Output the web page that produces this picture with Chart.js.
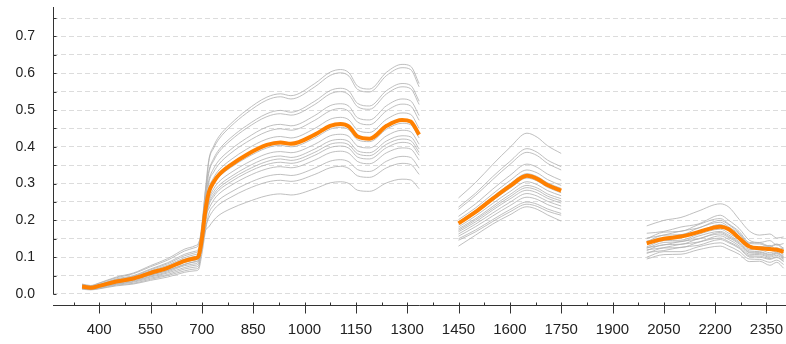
<!DOCTYPE html>
<html>
<head>
<meta charset="utf-8">
<script src="https://cdn.jsdelivr.net/npm/chart.js@4.4.1/dist/chart.umd.min.js"></script>
<style>
  html, body { margin: 0; padding: 0; background: #fff; }
  #wrap { width: 786px; height: 344px; }
</style>
</head>
<body>
<div id="wrap"><canvas id="spectra"></canvas></div>
<script>
// wavelength grid (nm); the null entries at 1390 and 1875 break the line at the water bands
const wavelengths = [350, 375, 400, 450, 500, 550, 600, 650, 680, 690, 700, 710, 720, 735, 750, 785, 830, 890, 930, 960, 1030, 1075, 1105, 1130, 1155, 1190, 1240, 1285, 1310, 1335, 1390, 1450, 1500, 1550, 1600, 1650, 1680, 1710, 1750, 1875, 2000, 2050, 2100, 2150, 2215, 2240, 2270, 2300, 2330, 2360, 2380, 2400];

const meanSpectrum = [.020, .017, .022, .034, .042, .057, .071, .090, .097, .102, .150, .225, .275, .305, .324, .351, .378, .405, .412, .408, .433, .457, .462, .455, .428, .422, .457, .473, .469, .433, null, .192, .223, .259, .293, .321, .313, .296, .281, null, .138, .150, .156, .168, .183, .176, .152, .129, .124, .122, .120, .115];

const sample01 = [.021, .018, .023, .036, .044, .060, .075, .095, .102, .107, .178, .279, .363, .403, .428, .463, .499, .535, .544, .539, .572, .603, .610, .601, .565, .557, .603, .624, .619, .572, null, .261, .303, .352, .398, .437, .426, .403, .382, null, .185, .200, .208, .225, .245, .236, .203, .171, .160, .163, .152, .155];
const sample02 = [.016, .014, .018, .027, .034, .046, .057, .072, .078, .082, .158, .259, .358, .397, .421, .456, .491, .527, .536, .530, .563, .594, .601, .592, .556, .549, .594, .615, .610, .563, null, .236, .274, .319, .360, .395, .385, .364, .346, null, .165, .170, .182, .190, .214, .200, .178, .146, .140, .145, .133, .137];
const sample03 = [.026, .022, .029, .044, .055, .074, .092, .117, .126, .133, .188, .278, .333, .369, .392, .425, .457, .490, .499, .494, .524, .553, .559, .551, .518, .511, .553, .572, .567, .524, null, .230, .268, .311, .352, .385, .376, .355, .337, null, .150, .168, .170, .188, .205, .190, .170, .140, .139, .130, .136, .124];
const sample04 = [.018, .015, .020, .031, .038, .051, .064, .081, .087, .092, .157, .248, .327, .363, .386, .418, .450, .482, .490, .486, .515, .544, .550, .541, .509, .502, .544, .563, .558, .515, null, .211, .245, .285, .322, .353, .344, .326, .309, null, .142, .160, .161, .179, .195, .182, .163, .133, .128, .132, .120, .125];
const sample05 = [.024, .020, .026, .041, .050, .068, .085, .108, .116, .122, .174, .257, .308, .342, .363, .393, .423, .454, .461, .457, .485, .512, .517, .510, .479, .473, .512, .530, .525, .485, null, .202, .234, .272, .308, .337, .329, .311, .295, null, .140, .148, .158, .166, .186, .174, .155, .127, .126, .118, .123, .112];
const sample06 = [.014, .012, .015, .024, .029, .040, .050, .063, .068, .071, .134, .219, .300, .332, .353, .383, .412, .441, .449, .445, .472, .498, .504, .496, .467, .460, .498, .516, .511, .472, null, .196, .227, .264, .299, .327, .319, .302, .287, null, .152, .160, .171, .179, .200, .188, .166, .137, .136, .128, .134, .120];
const sample07 = [.022, .019, .024, .037, .046, .063, .078, .099, .107, .112, .161, .238, .286, .317, .337, .365, .393, .421, .428, .424, .450, .475, .480, .473, .445, .439, .475, .492, .488, .450, null, .188, .219, .254, .287, .315, .307, .290, .275, null, .128, .145, .146, .162, .176, .165, .147, .121, .120, .112, .117, .106];
const sample08 = [.019, .016, .021, .032, .040, .054, .067, .086, .092, .097, .145, .218, .270, .299, .318, .344, .370, .397, .404, .400, .424, .448, .453, .446, .419, .414, .448, .464, .460, .424, null, .182, .212, .246, .278, .305, .297, .281, .267, null, .144, .151, .161, .169, .189, .178, .158, .130, .128, .120, .126, .113];
const sample09 = [.027, .023, .030, .046, .057, .077, .096, .122, .131, .138, .172, .239, .259, .287, .305, .330, .355, .381, .387, .384, .407, .430, .434, .428, .402, .397, .430, .445, .441, .407, null, .177, .205, .238, .270, .295, .288, .272, .259, null, .126, .133, .143, .149, .167, .156, .139, .114, .113, .106, .111, .100];
const sample10 = [.017, .014, .019, .029, .036, .048, .060, .077, .082, .087, .132, .201, .250, .278, .295, .319, .344, .369, .375, .371, .394, .416, .420, .414, .389, .384, .416, .430, .427, .394, null, .173, .201, .233, .264, .289, .282, .266, .253, null, .124, .140, .142, .157, .170, .160, .142, .117, .115, .108, .113, .102];
const sample11 = [.019, .016, .023, .033, .043, .058, .070, .091, .096, .101, .142, .208, .245, .271, .288, .312, .336, .360, .367, .363, .385, .407, .411, .405, .381, .376, .407, .421, .417, .385, null, .169, .196, .228, .258, .282, .275, .260, .247, null, .120, .126, .135, .141, .158, .148, .131, .108, .107, .100, .105, .094];
const sample12 = [.015, .013, .017, .026, .032, .043, .053, .068, .073, .077, .122, .188, .239, .265, .282, .305, .329, .352, .358, .355, .377, .398, .402, .396, .372, .367, .398, .412, .408, .377, null, .163, .190, .220, .249, .273, .266, .252, .239, null, .118, .134, .135, .150, .163, .153, .136, .112, .110, .103, .109, .097];
const sample13 = [.023, .020, .025, .039, .048, .066, .082, .104, .112, .117, .149, .210, .231, .256, .272, .295, .318, .340, .346, .343, .364, .384, .388, .382, .360, .354, .384, .397, .394, .364, null, .157, .183, .212, .240, .263, .257, .243, .230, null, .113, .118, .127, .132, .148, .139, .124, .101, .100, .094, .099, .088];
const sample14 = [.013, .011, .014, .022, .027, .037, .046, .059, .063, .066, .108, .168, .217, .241, .256, .277, .299, .320, .325, .322, .342, .361, .365, .359, .338, .333, .361, .374, .371, .342, null, .150, .174, .202, .229, .250, .244, .231, .219, null, .110, .125, .126, .140, .152, .142, .127, .104, .103, .096, .101, .090];
const sample15 = [.018, .016, .021, .030, .039, .052, .063, .080, .088, .091, .124, .179, .206, .229, .243, .263, .284, .304, .309, .306, .325, .343, .347, .341, .321, .317, .343, .355, .352, .325, null, .146, .169, .197, .223, .244, .238, .225, .214, null, .100, .115, .115, .128, .139, .130, .116, .095, .094, .086, .092, .080];
const sample16 = [.021, .018, .023, .035, .043, .056, .070, .088, .095, .099, .125, .171, .182, .201, .214, .232, .249, .267, .272, .269, .286, .302, .305, .300, .282, .279, .302, .312, .310, .286, null, .130, .160, .190, .215, .237, .230, .215, .198, null, .095, .107, .108, .120, .130, .121, .108, .088, .089, .078, .086, .070];

const xTickLabels = [400, 550, 700, 850, 1000, 1150, 1300, 1450, 1600, 1750, 1900, 2050, 2200, 2350];
const yTickValues = [0, 0.05, 0.1, 0.15, 0.2, 0.25, 0.3, 0.35, 0.4, 0.45, 0.5, 0.55, 0.6, 0.65, 0.7, 0.75];

const samples = [sample01, sample02, sample03, sample04, sample05, sample06, sample07, sample08,
                 sample09, sample10, sample11, sample12, sample13, sample14, sample15, sample16];

const fontFamily = "'Liberation Sans', Arial, sans-serif";

function toPoints(values) {
    return values.map((v, i) => ({ x: wavelengths[i], y: v }));
}

// axis lines drawn by hand: y axis stops at 0, x axis sits below the plot with long/short ticks
const axisLines = {
    id: "axisLines",
    afterDraw(chart) {
        const { ctx, chartArea, scales } = chart;
        const left = Math.round(chartArea.left) + 0.5;
        const base = Math.round(chartArea.bottom) + 0.5;
        const yZero = Math.round(scales.y.getPixelForValue(0)) + 0.5;
        ctx.save();
        ctx.strokeStyle = "#333";
        ctx.lineWidth = 1;
        ctx.beginPath();
        ctx.moveTo(left, chartArea.top);
        ctx.lineTo(left, yZero);
        yTickValues.forEach(v => {
            const py = Math.round(scales.y.getPixelForValue(v)) + 0.5;
            ctx.moveTo(left, py);
            ctx.lineTo(left + 3, py);
        });
        ctx.moveTo(chartArea.left, base);
        ctx.lineTo(chartArea.right, base);
        xTickLabels.forEach(v => {
            const px = Math.round(scales.x.getPixelForValue(v)) + 0.5;
            ctx.moveTo(px, base - 3);
            ctx.lineTo(px, base + 8);
            const pm = Math.round(scales.x.getPixelForValue(v - 75)) + 0.5;
            ctx.moveTo(pm, base - 3);
            ctx.lineTo(pm, base);
        });
        ctx.stroke();
        ctx.restore();
    }
};

function noPadding(axis) {
    axis.paddingTop = 0;
    axis.paddingBottom = 0;
    axis.paddingLeft = 0;
    axis.paddingRight = 0;
}

const datasets = samples.map(s => ({
    data: toPoints(s),
    borderColor: "rgba(175, 175, 175, 0.8)",
    borderWidth: 1,
    pointRadius: 0,
    cubicInterpolationMode: "monotone",
    spanGaps: false,
    order: 2,
}));
datasets.push({
    data: toPoints(meanSpectrum),
    borderColor: "#ff8000",
    borderWidth: 4,
    pointRadius: 0,
    cubicInterpolationMode: "monotone",
    spanGaps: false,
    order: 1,
});

new Chart(document.getElementById("spectra"), {
    type: "line",
    data: { datasets: datasets },
    options: {
        responsive: true,
        maintainAspectRatio: false,
        animation: false,
        layout: { padding: { top: 7, left: 0, right: 0, bottom: 0 } },
        plugins: {
            legend: { display: false },
            tooltip: { enabled: false },
        },
        scales: {
            x: {
                type: "linear",
                min: 265,
                max: 2407,
                afterBuildTicks: axis => { axis.ticks = xTickLabels.map(v => ({ value: v })); },
                afterFit: axis => { axis.height = 39; noPadding(axis); },
                grid: { display: false, drawTicks: false },
                border: { display: false },
                ticks: {
                    padding: 16,
                    color: "#222",
                    autoSkip: false,
                    maxRotation: 0,
                    font: { size: 15, family: fontFamily },
                    callback: v => String(v),
                },
            },
            y: {
                min: -0.03,
                max: 0.78,
                afterBuildTicks: axis => { axis.ticks = yTickValues.map(v => ({ value: v })); },
                afterFit: axis => { axis.width = 53; noPadding(axis); },
                grid: { color: "#dcdcdc", lineWidth: 1, drawTicks: false },
                border: { display: false, dash: [5, 3] },
                ticks: {
                    padding: 18,
                    color: "#222",
                    font: { size: 14, family: fontFamily },
                    callback: v => (Math.round(v * 100) % 10 === 0 ? v.toFixed(1) : ""),
                },
            },
        },
    },
    plugins: [axisLines],
});
</script>
</body>
</html>
